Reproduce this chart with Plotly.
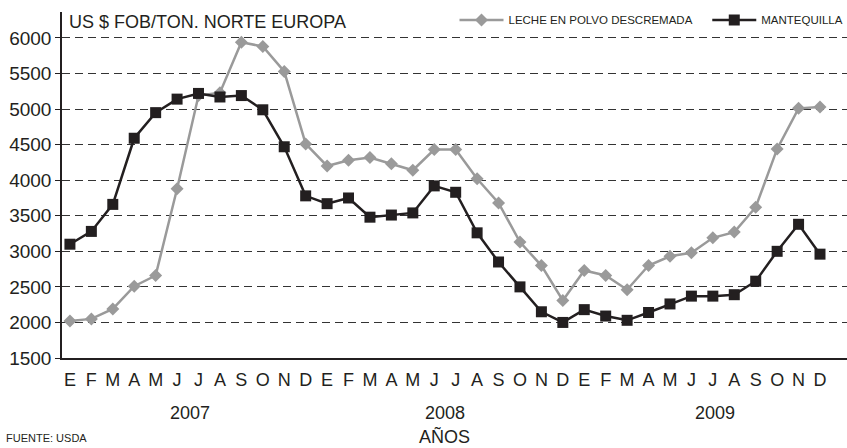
import plotly.graph_objects as go

# Monthly export prices, US$ FOB per ton, Northern Europe (Jan 2007 - Dec 2009)
months = ["E", "F", "M", "A", "M", "J", "J", "A", "S", "O", "N", "D"] * 3
years = ["2007", "2008", "2009"]

leche_polvo = [2020, 2050, 2190, 2510, 2660, 3880, 5190, 5230, 5940, 5880, 5530, 4510,
               4200, 4280, 4320, 4230, 4140, 4430, 4430, 4020, 3680, 3130, 2800, 2310,
               2730, 2660, 2460, 2800, 2930, 2980, 3190, 3270, 3620, 4440, 5010, 5030]

mantequilla = [3100, 3280, 3660, 4590, 4950, 5140, 5220, 5170, 5190, 4990, 4470, 3780,
               3670, 3750, 3480, 3510, 3540, 3920, 3830, 3260, 2850, 2500, 2150, 2000,
               2180, 2090, 2030, 2140, 2260, 2370, 2370, 2390, 2580, 3000, 3380, 2960]

x = list(range(len(months)))
FONT = "Liberation Sans, Arial, sans-serif"
INK = "#231f20"
GREY = "#9a9a9a"

fig = go.Figure()
fig.add_trace(go.Scatter(
    x=x, y=leche_polvo, name="LECHE EN POLVO DESCREMADA", mode="lines+markers",
    line=dict(color=GREY, width=2.5),
    marker=dict(symbol="diamond", size=10, color=GREY),
    legend="legend",
))
fig.add_trace(go.Scatter(
    x=x, y=mantequilla, name="MANTEQUILLA", mode="lines+markers",
    line=dict(color=INK, width=2.5),
    marker=dict(symbol="square", size=11, color=INK),
    legend="legend2",
))

legend_style = dict(orientation="h", yanchor="middle", y=0.977, xanchor="left",
                    bgcolor="rgba(0,0,0,0)", font=dict(size=11.5, family=FONT),
                    itemwidth=44)

fig.update_layout(
    width=847, height=448,
    margin=dict(l=62, r=0, t=12, b=90, autoexpand=False),
    paper_bgcolor="white", plot_bgcolor="white",
    font=dict(family=FONT, color=INK, size=18),
    showlegend=True,
    legend=dict(legend_style, x=0.5),
    legend2=dict(legend_style, x=0.822),
    xaxis=dict(
        range=[-0.37, 36.26], tickmode="array", tickvals=x, ticktext=months,
        showgrid=False, zeroline=False, showline=True, linecolor=INK, linewidth=1.5,
        ticks="", tickfont=dict(size=18), ticklabelstandoff=5, fixedrange=True,
    ),
    yaxis=dict(
        range=[1500, 6365], tickmode="array",
        tickvals=[1500, 2000, 2500, 3000, 3500, 4000, 4500, 5000, 5500, 6000],
        showgrid=True, gridcolor="#333333", gridwidth=1.2, griddash="8px,5px",
        zeroline=False, showline=True, linecolor=INK, linewidth=1.5,
        ticks="outside", ticklen=5, tickcolor=INK, tickfont=dict(size=19),
    ),
)

fig.add_annotation(text="US $ FOB/TON. NORTE EUROPA", xref="paper", yref="paper",
                   x=0.007, y=1.005, xanchor="left", yanchor="top", showarrow=False,
                   font=dict(size=18))
year_pos = [5.6, 17.5, 30.1]
for yr, xp in zip(years, year_pos):
    fig.add_annotation(text=yr, xref="x", yref="paper", x=xp, y=-0.158,
                       xanchor="center", yanchor="middle", showarrow=False, font=dict(size=18))
fig.add_annotation(text="AÑOS", xref="x", yref="paper", x=17.5, y=-0.226,
                   xanchor="center", yanchor="middle", showarrow=False, font=dict(size=18))
fig.add_annotation(text="FUENTE: USDA", xref="paper", yref="paper", x=-0.074, y=-0.232,
                   xanchor="left", yanchor="middle", showarrow=False, font=dict(size=11))

fig.write_html("out.html")
